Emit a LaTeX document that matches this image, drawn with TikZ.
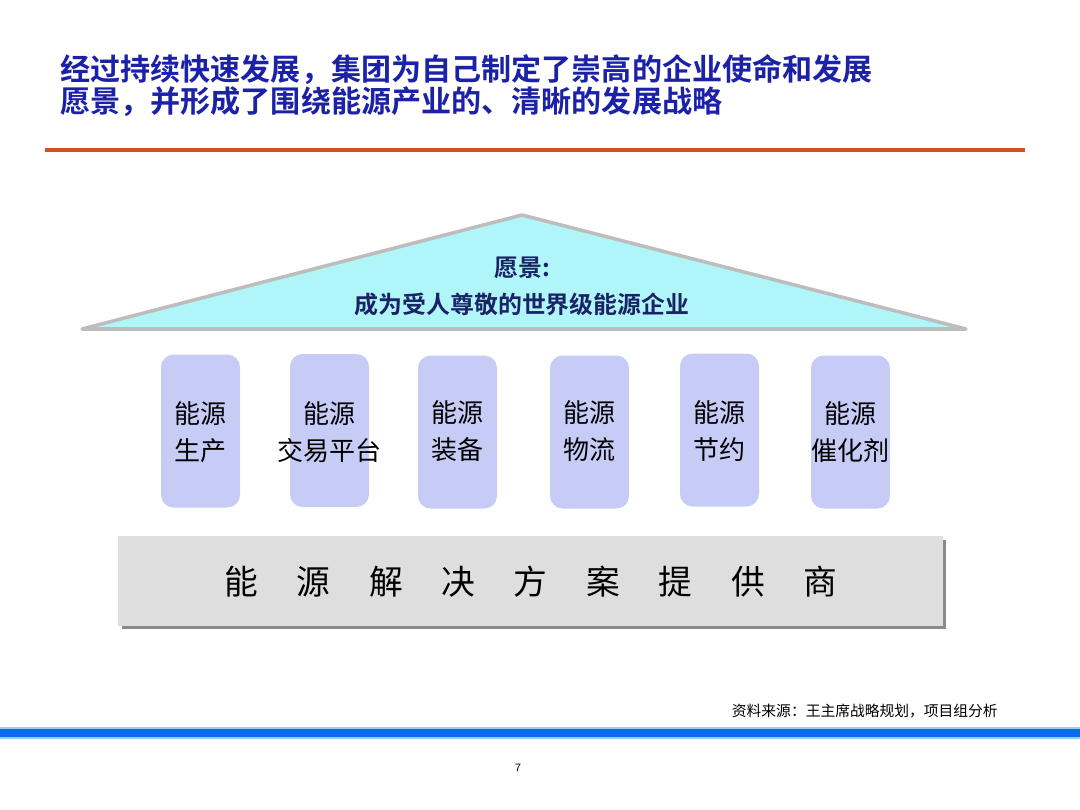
\documentclass[tikz,border=0pt]{standalone}
\usepackage{fontspec}
\newfontfamily\cjk{Noto Sans CJK SC}
\newfontfamily\cjkb{Noto Sans CJK SC Bold}
\definecolor{titleblue}{HTML}{1C22A8}
\definecolor{rule}{HTML}{D4502A}
\definecolor{roof}{HTML}{B0F6F8}
\definecolor{roofedge}{HTML}{BDBDBD}
\definecolor{navy}{HTML}{1A2366}
\definecolor{pillar}{HTML}{C6CCF6}
\definecolor{basefill}{HTML}{DEDEDE}
\definecolor{shadow}{HTML}{8A8A8A}
\definecolor{barblue}{HTML}{0A6CE6}
\definecolor{barlight}{HTML}{9CCBF7}
\tikzset{
  pillarbox/.style={fill=pillar, rounded corners=9pt, minimum width=79*0.025cm, minimum height=153*0.025cm, inner sep=0pt},
  pillartext/.style={font=\cjk\fontsize{18.5pt}{26pt}\selectfont, align=center, text=black},
  titletext/.style={anchor=west, text=titleblue, font=\cjkb\fontsize{21.4pt}{23pt}\selectfont, inner sep=0pt},
  rooftext/.style={text=navy, font=\cjkb\fontsize{17pt}{20pt}\selectfont},
}
\begin{document}
\begin{tikzpicture}[x=0.025cm,y=-0.025cm]
\useasboundingbox (0,0) rectangle (1080,810);
% title
\node[titletext] (t1) at (60,70) {经过持续快速发展，集团为自己制定了崇高的企业使命和发展};
\node[titletext] (t2) at (60,102) {愿景，并形成了围绕能源产业的、清晰的发展战略};
% rule
\draw[rule, line width=3pt] (45,150) -- (1025,150);
% roof
\coordinate (apex) at (522,215);
\coordinate (bl) at (82,329);
\coordinate (br) at (966,329);
\draw[roofedge, line width=2.5pt, fill=roof, line join=round] (apex) -- (br) -- (bl) -- cycle;
\node[rooftext] (v1) at (522,268) {愿景:};
\node[rooftext] (v2) at (522,304) {成为受人尊敬的世界级能源企业};
% pillars
\node[pillarbox] (p1) at (200.5,431) {};
\node[pillarbox] (p2) at (329.5,430.5) {};
\node[pillarbox] (p3) at (457.5,432) {};
\node[pillarbox] (p4) at (589.5,432) {};
\node[pillarbox] (p5) at (719.5,430) {};
\node[pillarbox] (p6) at (850.5,432) {};
\node[pillartext] (l1) at (200.5,432) {能源\\生产};
\node[pillartext] (l2) at (329.5,432) {能源\\交易平台};
\node[pillartext] (l3) at (457.5,431) {能源\\装备};
\node[pillartext] (l4) at (589.5,431) {能源\\物流};
\node[pillartext] (l5) at (719.5,431) {能源\\节约};
\node[pillartext] (l6) at (850.5,432) {能源\\催化剂};
% base
\fill[shadow] (122,540) rectangle (946,629);
\node[fill=basefill, minimum width=825*0.025cm, minimum height=90*0.025cm, inner sep=0pt, anchor=north west] (base) at (118,536) {};
\node[font=\cjk\fontsize{24pt}{28pt}\selectfont, text=black] (bt) at (base.center) {能\hspace{27.5pt}源\hspace{27.5pt}解\hspace{27.5pt}决\hspace{27.5pt}方\hspace{27.5pt}案\hspace{27.5pt}提\hspace{27.5pt}供\hspace{27.5pt}商};
% source
\node[anchor=east, font=\cjk\fontsize{10.5pt}{12pt}\selectfont, text=black, inner sep=0pt] (src) at (998,711) {资料来源：王主席战略规划，项目组分析};
% bottom bar
\fill[barlight] (0,727) rectangle (1080,739);
\fill[barblue] (0,729) rectangle (1080,737);
% page number
\node[font=\sffamily\fontsize{8pt}{9pt}\selectfont, text=black] (pn) at (518,768) {7};
\end{tikzpicture}
\end{document}
